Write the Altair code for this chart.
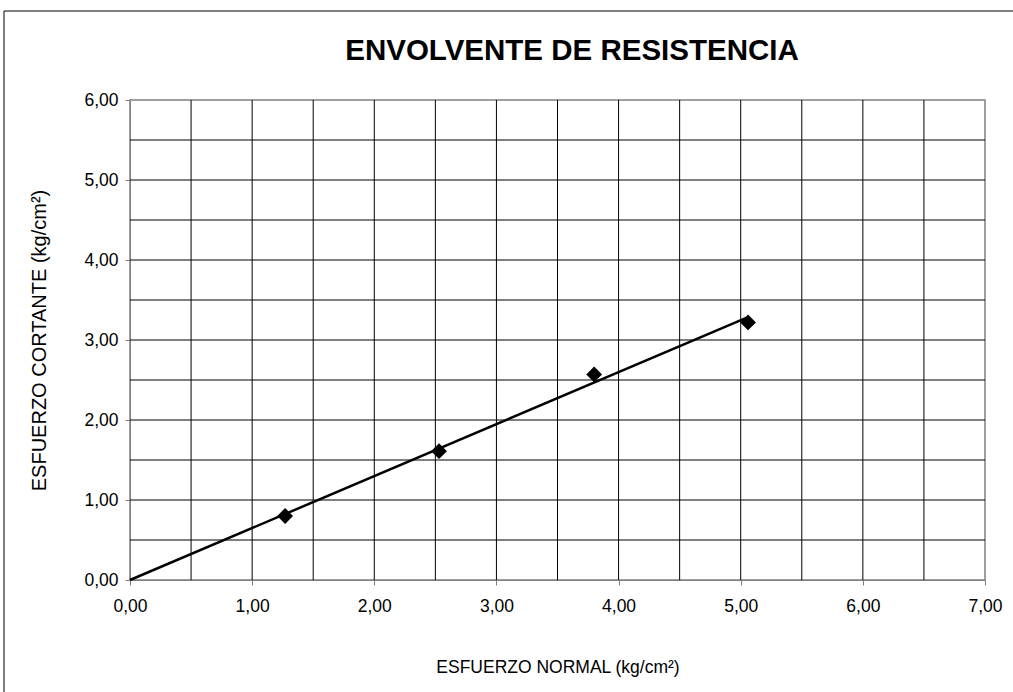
import altair as alt
import pandas as pd

# Ensayo de corte directo: esfuerzo normal vs. esfuerzo cortante (kg/cm²)
esfuerzo_normal = [1.27, 2.53, 3.80, 5.06]
esfuerzo_cortante = [0.80, 1.61, 2.57, 3.22]

# Recta envolvente (pasa por el origen)
envolvente_x = [0.0, 5.05]
envolvente_y = [0.0, 3.28]

# Líneas de cuadrícula cada 0,5
grid_x = [0.5, 1.0, 1.5, 2.0, 2.5, 3.0, 3.5, 4.0, 4.5, 5.0, 5.5, 6.0, 6.5]
grid_y = [0.5, 1.0, 1.5, 2.0, 2.5, 3.0, 3.5, 4.0, 4.5, 5.0, 5.5]
ticks_x = [0, 1, 2, 3, 4, 5, 6, 7]
ticks_y = [0, 1, 2, 3, 4, 5, 6]

titulo = "ENVOLVENTE DE RESISTENCIA"
titulo_x = "ESFUERZO NORMAL (kg/cm²)"
titulo_y = "ESFUERZO CORTANTE (kg/cm²)"

FONT = "Liberation Sans"
W, H = 855, 480
LEFT, TOP = 130, 100

puntos = pd.DataFrame({"x": esfuerzo_normal, "y": esfuerzo_cortante})
recta = pd.DataFrame({"x": envolvente_x, "y": envolvente_y})
gx = pd.DataFrame({"x": grid_x})
gy = pd.DataFrame({"y": grid_y})

coma = "replace(format(datum.value, '.2f'), '.', ',')"

xscale = alt.Scale(domain=[0, 7], nice=False, zero=True)
yscale = alt.Scale(domain=[0, 6], nice=False, zero=True)

x_axis = alt.Axis(
    values=ticks_x, labelExpr=coma, grid=False, title=titulo_x,
    labelFont=FONT, labelFontSize=17.5, labelColor="black", labelPadding=12,
    labelFlush=False, labelOverlap=False,
    tickSize=5, tickColor="#808080", domainColor="#808080",
    titleFont=FONT, titleFontSize=17.5, titleFontWeight="normal", titleColor="black",
    titlePadding=44,
)
y_axis = alt.Axis(
    values=ticks_y, labelExpr=coma, grid=False, title=titulo_y,
    labelFont=FONT, labelFontSize=17.5, labelColor="black", labelPadding=7,
    labelFlush=False, labelOverlap=False,
    tickSize=5, tickColor="#808080", domainColor="#808080",
    titleFont=FONT, titleFontSize=20, titleFontWeight="normal", titleColor="black",
    titlePadding=34,
)

# Marco exterior del gráfico
marco = alt.Chart(pd.DataFrame({"a": [0]})).mark_rect(
    fillOpacity=0, stroke="black", strokeWidth=1
).encode(
    x=alt.value(4 - LEFT), x2=alt.value(1013 - LEFT + 20),
    y=alt.value(11 - TOP), y2=alt.value(692 - TOP + 20),
)

rejilla_v = alt.Chart(gx).mark_rule(color="black", strokeWidth=1).encode(
    x=alt.X("x:Q", scale=xscale, axis=x_axis)
)
rejilla_h = alt.Chart(gy).mark_rule(color="black", strokeWidth=1).encode(
    y=alt.Y("y:Q", scale=yscale, axis=y_axis)
)

linea = alt.Chart(recta).mark_line(color="black", strokeWidth=2.5).encode(
    x=alt.X("x:Q", scale=xscale, axis=x_axis),
    y=alt.Y("y:Q", scale=yscale, axis=y_axis),
)

marcas = alt.Chart(puntos).mark_point(
    shape="diamond", filled=True, color="black", size=250, opacity=1
).encode(
    x=alt.X("x:Q", scale=xscale, axis=x_axis),
    y=alt.Y("y:Q", scale=yscale, axis=y_axis),
)

texto_titulo = alt.Chart(pd.DataFrame({"t": [titulo]})).mark_text(
    font=FONT, fontSize=29.5, fontWeight="bold", color="black",
    align="center", baseline="middle",
).encode(
    x=alt.value(572 - LEFT), y=alt.value(51 - TOP), text="t:N"
)

chart = alt.layer(
    marco, rejilla_v, rejilla_h, linea, marcas, texto_titulo
).properties(
    width=W, height=H,
    autosize=alt.AutoSizeParams(type="none"),
    padding={"left": LEFT, "top": TOP, "right": 1013 - LEFT - W, "bottom": 692 - TOP - H},
    background="white",
).configure_view(
    stroke="#808080", strokeWidth=1.5
)

chart.save("out.html", embed_options={"renderer": "svg", "actions": False})
